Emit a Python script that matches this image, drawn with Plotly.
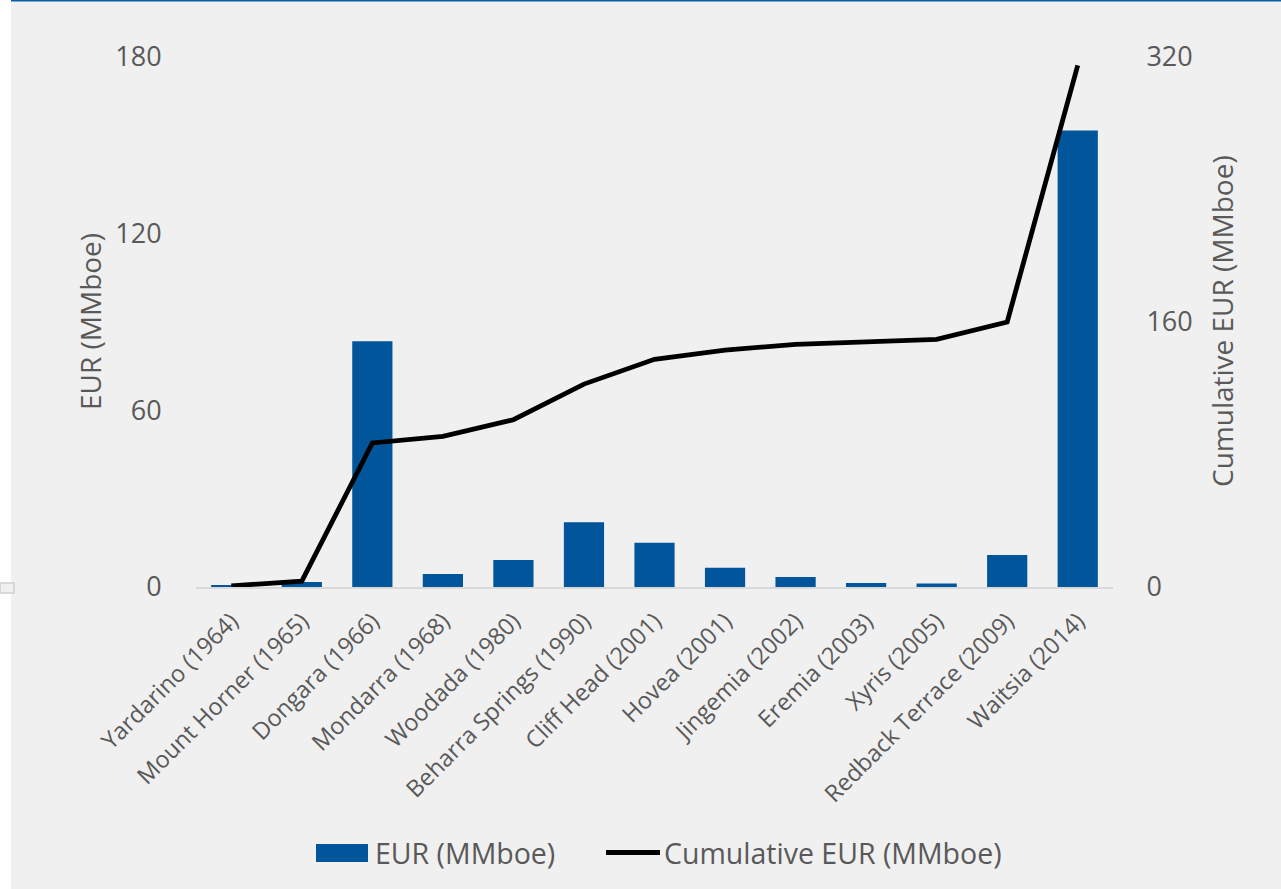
import plotly.graph_objects as go

fields = ["Yardarino (1964)", "Mount Horner (1965)", "Dongara (1966)", "Mondarra (1968)",
          "Woodada (1980)", "Beharra Springs (1990)", "Cliff Head (2001)", "Hovea (2001)",
          "Jingemia (2002)", "Eremia (2003)", "Xyris (2005)", "Redback Terrace (2009)",
          "Waitsia (2014)"]
eur = [0.7, 1.7, 83.5, 4.4, 9.2, 22.0, 15.0, 6.5, 3.4, 1.4, 1.2, 10.9, 155.0]
cum_eur = [0.7, 3.5, 87.0, 91.0, 101.0, 122.5, 137.5, 143.0, 146.5, 148.0, 149.5, 160.0, 315.0]

W, H = 1281, 889
L, R, T, B = 196, 168, 57, 302
pw, ph = W - L - R, H - T - B

def px(x):
    return (x - L) / pw

def py(y):
    return (H - B - y) / ph

txt = "#595959"
font = "Open Sans"
blue = "#00559B"

fig = go.Figure()
fig.add_trace(go.Bar(x=fields, y=eur, name="EUR (MMboe)", marker=dict(color=blue, line=dict(width=0)),
                     yaxis="y", showlegend=False))
fig.add_trace(go.Scatter(x=fields, y=cum_eur, name="Cumulative EUR (MMboe)", mode="lines",
                         line=dict(color="black", width=4.8), yaxis="y2", showlegend=False))

fig.update_layout(
    width=W, height=H,
    margin=dict(l=L, r=R, t=T, b=B, autoexpand=False),
    paper_bgcolor="#F0F0F0", plot_bgcolor="#F0F0F0",
    font=dict(family=font, color=txt),
    bargap=0.43,
    xaxis=dict(tickangle=-45, tickfont=dict(size=23.5, color=txt), showgrid=False,
               showline=True, linecolor="#D9D9D9", linewidth=2, ticks="outside", ticklen=9,
               tickcolor="rgba(0,0,0,0)", zeroline=False),
    yaxis=dict(range=[0, 180], dtick=60, showgrid=False, zeroline=False, showline=False,
               tickfont=dict(size=27, color=txt), ticks="outside", ticklen=28, tickcolor="rgba(0,0,0,0)"),
    yaxis2=dict(range=[0, 320], dtick=160, overlaying="y", side="right", showgrid=False,
                zeroline=False, showline=False, tickfont=dict(size=27, color=txt),
                ticks="outside", ticklen=27, tickcolor="rgba(0,0,0,0)"),
    shapes=[
        dict(type="rect", xref="paper", yref="paper", x0=px(0), x1=px(11), y0=py(H), y1=py(0),
             fillcolor="white", line=dict(width=0), layer="below"),
        dict(type="line", xref="paper", yref="paper", x0=px(11), x1=px(W),
             y0=py(0.5), y1=py(0.5), line=dict(color="#0A5EA8", width=2)),
        dict(type="rect", xref="paper", yref="paper", x0=px(0), x1=px(14),
             y0=py(593), y1=py(583), fillcolor="#F0F0F0", line=dict(color="#D0D0D0", width=1.5)),
        # legend symbols
        dict(type="rect", xref="paper", yref="paper", x0=px(316), x1=px(368),
             y0=py(862), y1=py(844), fillcolor=blue, line=dict(width=0)),
        dict(type="line", xref="paper", yref="paper", x0=px(606), x1=px(660),
             y0=py(852.5), y1=py(852.5), line=dict(color="black", width=4.8)),
    ],
    annotations=[
        dict(text="EUR (MMboe)", xref="paper", yref="paper", x=px(90), y=py(322), textangle=-90,
             showarrow=False, xanchor="center", yanchor="middle", font=dict(size=28, color=txt)),
        dict(text="Cumulative EUR (MMboe)", xref="paper", yref="paper", x=px(1222), y=py(321), textangle=-90,
             showarrow=False, xanchor="center", yanchor="middle", font=dict(size=28, color=txt)),
        dict(text="EUR (MMboe)", xref="paper", yref="paper", x=px(373), y=py(853),
             showarrow=False, xanchor="left", yanchor="middle", font=dict(size=28.5, color=txt)),
        dict(text="Cumulative EUR (MMboe)", xref="paper", yref="paper", x=px(662), y=py(853),
             showarrow=False, xanchor="left", yanchor="middle", font=dict(size=28.5, color=txt)),
    ],
)

fig.write_html("out.html", config={"displayModeBar": False},
               post_script="document.body.style.margin='0px';")
